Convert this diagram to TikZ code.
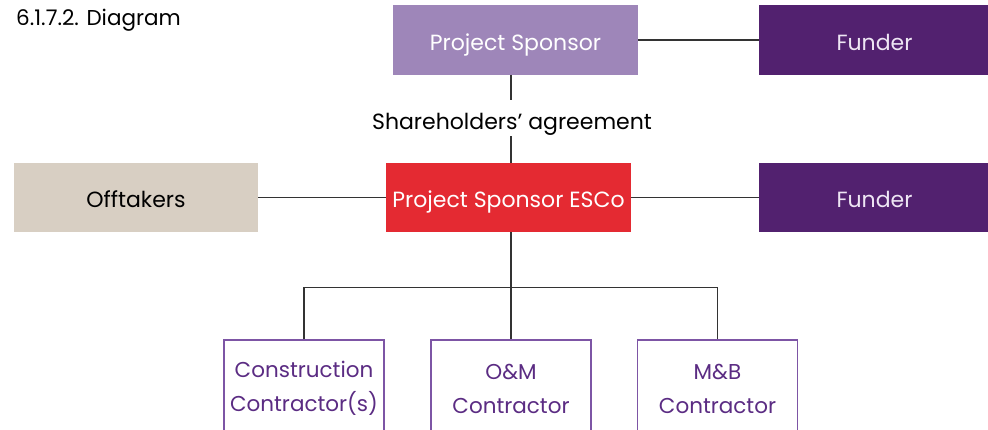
\documentclass[tikz,border=0pt]{standalone}
\usepackage{fontspec}
\setmainfont{Poppins}
\definecolor{pslilac}{HTML}{9E86B9}
\definecolor{funderpurple}{HTML}{52216F}
\definecolor{offbeige}{HTML}{D8CFC3}
\definecolor{escored}{HTML}{E42A32}
\definecolor{outlinepurple}{HTML}{7D55A5}
\definecolor{textpurple}{HTML}{5B2C83}
\definecolor{linegray}{HTML}{333333}
\definecolor{fundertext}{HTML}{EEE6F4}
\begin{document}
\begin{tikzpicture}[x=1pt,y=-1pt,
  boxfont/.style={font=\fontsize{22}{34}\selectfont},
  filledbox/.style={boxfont, inner sep=0pt, minimum height=69.5pt, text height=20pt, text depth=0pt},
  contractorbox/.style={font=\fontsize{21.5}{34}\selectfont, draw=outlinepurple, line width=1.4pt, text=textpurple,
      align=center, inner sep=0pt, minimum width=160pt, minimum height=97pt},
  conn/.style={draw=linegray, line width=1.3pt}]
\useasboundingbox (0,0) rectangle (988,429);

\node[font=\fontsize{21.5}{24}\selectfont, anchor=base west, inner sep=0pt] (title) at (16,25) {6.1.7.2. Diagram};

\node[filledbox, fill=pslilac, text=white, minimum width=245pt] (ps) at (515.5,40) {Project Sponsor};
\node[filledbox, fill=funderpurple, text=fundertext, minimum width=231pt] (f1) at (874.5,40) {Funder};
\node[filledbox, fill=offbeige, text=black, minimum width=244pt] (off) at (136,197.5) {Offtakers};
\node[filledbox, fill=escored, text=white, minimum width=245pt] (esco) at (508.5,197.5) {Project Sponsor ESCo};
\node[filledbox, fill=funderpurple, text=fundertext, minimum width=231pt] (f2) at (874.5,197.5) {Funder};

\node[boxfont, inner sep=0pt, anchor=base] (lbl) at (512,129) {Shareholders’ agreement};
\coordinate (lt) at (511,100);
\coordinate (lb) at (511,136);

\node[contractorbox] (cc) at (304,388.5) {Construction\\Contractor(s)};
\node[contractorbox] (om) at (511,388.5) {O\&M\\Contractor};
\node[contractorbox] (mb) at (717.5,388.5) {M\&B\\Contractor};

\coordinate (hub) at (511,287.5);

\draw[conn] (ps.east) -- (f1.west);
\draw[conn] (off.east) -- (esco.west);
\draw[conn] (esco.east) -- (f2.west);
\draw[conn] (lt |- ps.south) -- (lt);
\draw[conn] (lb) -- (lb |- esco.north);
\draw[conn] (hub |- esco.south) -- (hub);
\draw[conn] (cc.north) |- (hub) -| (mb.north);
\draw[conn] (hub) -- (om.north);
\end{tikzpicture}
\end{document}
